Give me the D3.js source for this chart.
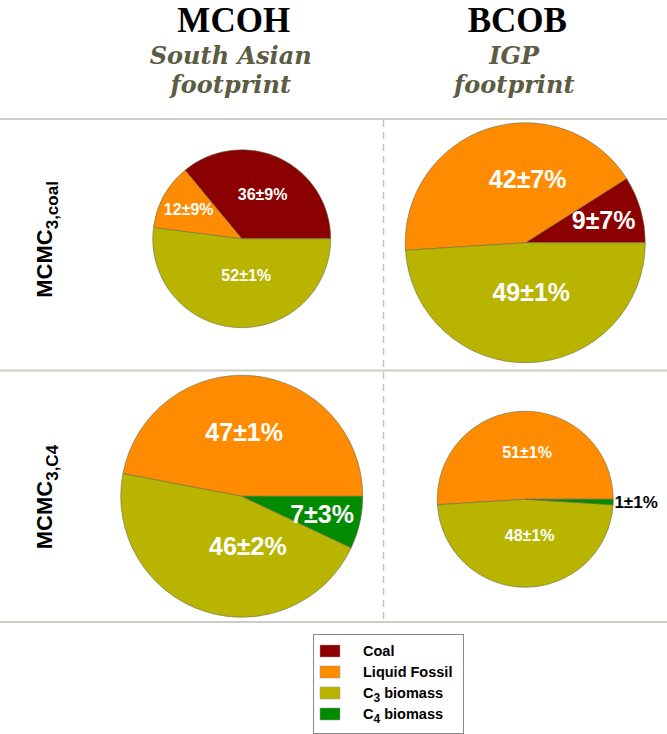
<!DOCTYPE html>
<html lang="en-US">
<head>
<meta charset="UTF-8">
<title>Source apportionment pies</title>
<style>
  body { margin: 0; background: #fff; }
  svg { display: block; }
  .title { font-family: "Liberation Serif", serif; font-weight: bold; font-size: 35px; fill: #000; }
  .subtitle { font-family: "DejaVu Serif", serif; font-style: italic; font-weight: bold; font-size: 24px; fill: #5c5c44; }
  .rowlab { font-family: "Liberation Sans", Arial, sans-serif; font-weight: bold; font-size: 22px; fill: #000; }
  .plab { font-family: "Liberation Sans", Arial, sans-serif; font-weight: bold; }
  .legend text { font-family: "Liberation Sans", Arial, sans-serif; font-weight: bold; font-size: 14.5px; fill: #000; }
</style>
</head>
<body>
<div id="viz"></div>
<script src="https://cdn.jsdelivr.net/npm/d3@7"></script>
<script>

// data (percent share, ± uncertainty)
var sources = ["Coal", "Liquid Fossil", "C3 biomass", "C4 biomass"];
var sites = ["MCOH", "BCOB"];
var footprints = [["South Asian", "footprint"], ["IGP", "footprint"]];
var models = ["coal", "C4"];
var modelSub = ["3,coal", "3,C4"];

var mcohCoalShare = [36, 12, 52, 0];
var mcohCoalErr   = [9, 9, 1, 0];
var bcobCoalShare = [9, 42, 49, 0];
var bcobCoalErr   = [7, 7, 1, 0];
var mcohC4Share   = [0, 47, 46, 7];
var mcohC4Err     = [0, 1, 2, 3];
var bcobC4Share   = [0, 51, 48, 1];
var bcobC4Err     = [0, 1, 1, 1];

var colors = ["#8b0000", "#ff8c00", "#b8b400", "#008b00"];

var width = 667, height = 734;

var svg = d3.select("#viz").append("svg")
    .attr("width", width)
    .attr("height", height);

var color = d3.scaleOrdinal().domain(sources).range(colors);

// grid
var xCol = d3.scaleBand().domain(sites).range([100, 667]);
var yRow = d3.scaleBand().domain(models).range([119, 622]);

var panels = [
  {site: "MCOH", model: "coal", share: mcohCoalShare, err: mcohCoalErr, r: 89, dy: -6},
  {site: "BCOB", model: "coal", share: bcobCoalShare, err: bcobCoalErr, r: 120, dy: -2},
  {site: "MCOH", model: "C4",   share: mcohC4Share,   err: mcohC4Err,   r: 121, dy: 0},
  {site: "BCOB", model: "C4",   share: bcobC4Share,   err: bcobC4Err,   r: 88,  dy: 3}
];

// horizontal rules
var rules = [yRow.range()[0], yRow("C4"), yRow.range()[1]];
svg.selectAll("line.rule")
  .data(rules)
  .enter().append("line")
    .attr("class", "rule")
    .attr("x1", 0).attr("x2", width)
    .attr("y1", function(d) { return d; })
    .attr("y2", function(d) { return d; })
    .attr("stroke", "#cdcdc6")
    .attr("stroke-width", 2);

// dashed column divider
svg.append("line")
    .attr("x1", xCol("BCOB")).attr("x2", xCol("BCOB"))
    .attr("y1", rules[0] + 1).attr("y2", rules[2] - 1)
    .attr("stroke", "#c4c4c0")
    .attr("stroke-width", 1.5)
    .attr("stroke-dasharray", "7,5");

// column titles
sites.forEach(function(s, i) {
  var cx = xCol(s) + xCol.bandwidth() / 2 - 8;
  svg.append("text").attr("class", "title")
      .attr("x", cx).attr("y", 32)
      .attr("text-anchor", "middle")
      .text(s);
  footprints[i].forEach(function(line, j) {
    svg.append("text").attr("class", "subtitle")
        .attr("x", cx - 3).attr("y", 64 + j * 29)
        .attr("text-anchor", "middle")
        .text(line);
  });
});

// row labels (rotated, read bottom-up)
models.forEach(function(m, i) {
  var t = svg.append("text").attr("class", "rowlab")
      .attr("transform", "translate(52," + (yRow(m) + yRow.bandwidth() / 2 + 53) + ") rotate(-90)")
      .attr("text-anchor", "start");
  t.append("tspan").text("MCMC");
  t.append("tspan").attr("dy", 6).attr("font-size", 17).text(modelSub[i]);
});

// pies: counter-clockwise from 3 o'clock
var pie = d3.pie()
    .sort(null)
    .value(function(d) { return d.v; })
    .startAngle(Math.PI / 2)
    .endAngle(Math.PI / 2 - 2 * Math.PI);

function labelPos(d, r) {
  var a = (d.startAngle + d.endAngle) / 2;
  if (d.data.v < 3) {                       // tiny slice: outside
    return [Math.sin(a) * r * 1.26, -Math.cos(a) * r * 1.26];
  }
  if (d.data.v > 40) {                      // big half: straight above / below
    return Math.cos(a) > 0 ? [r * 0.02, -r * 0.53] : [r * 0.05, r * 0.41];
  }
  var k = d.data.v < 15 ? 0.68 : 0.55;
  return [Math.sin(a) * r * k, -Math.cos(a) * r * k];
}

panels.forEach(function(p) {
  var cx = xCol(p.site) + xCol.bandwidth() / 2;
  var cy = yRow(p.model) + yRow.bandwidth() / 2 + p.dy;
  var data = sources.map(function(s, i) { return {src: s, v: p.share[i], e: p.err[i]}; })
      .filter(function(d) { return d.v > 0; });
  var arc = d3.arc().innerRadius(0).outerRadius(p.r);
  var fs = p.r > 100 ? 25 : 16;

  var g = svg.append("g").attr("transform", "translate(" + cx + "," + cy + ")");
  var arcs = pie(data);

  g.selectAll("path")
    .data(arcs)
    .enter().append("path")
      .attr("d", arc)
      .attr("fill", function(d) { return color(d.data.src); })
      .attr("stroke", "#6b6b50")
      .attr("stroke-width", 0.6);

  g.selectAll("text")
    .data(arcs)
    .enter().append("text")
      .attr("class", "plab")
      .attr("text-anchor", "middle")
      .attr("dominant-baseline", "central")
      .attr("font-size", function(d) { return d.data.v < 3 ? 17 : fs; })
      .attr("fill", function(d) { return d.data.v < 3 ? "#000" : "#fff"; })
      .attr("transform", function(d) { return "translate(" + labelPos(d, p.r) + ")"; })
      .text(function(d) { return d.data.v + "\u00b1" + d.data.e + "%"; });
});

// legend
var leg = svg.append("g").attr("class", "legend");
leg.append("rect")
    .attr("x", 313.5).attr("y", 634.5)
    .attr("width", 150).attr("height", 99)
    .attr("fill", "#fff")
    .attr("stroke", "#8a8a8a");

var legY = d3.scalePoint().domain(sources).range([651, 714]);
var row = leg.selectAll("g.item")
  .data(sources)
  .enter().append("g").attr("class", "item")
    .attr("transform", function(d) { return "translate(0," + legY(d) + ")"; });

row.append("rect")
    .attr("x", 320).attr("y", -6)
    .attr("width", 20).attr("height", 12)
    .attr("fill", function(d) { return color(d); })
    .attr("stroke", "#999")
    .attr("stroke-width", 0.5);

row.append("text")
    .attr("x", 363).attr("y", 5)
    .each(function(d) {
      var t = d3.select(this);
      var m = d.match(/^C(\d) (.*)$/);
      if (m) {
        t.append("tspan").text("C");
        t.append("tspan").attr("dy", 4).attr("font-size", 12).text(m[1]);
        t.append("tspan").attr("dy", -4).text(" " + m[2]);
      } else {
        t.text(d);
      }
    });

</script>
</body>
</html>
